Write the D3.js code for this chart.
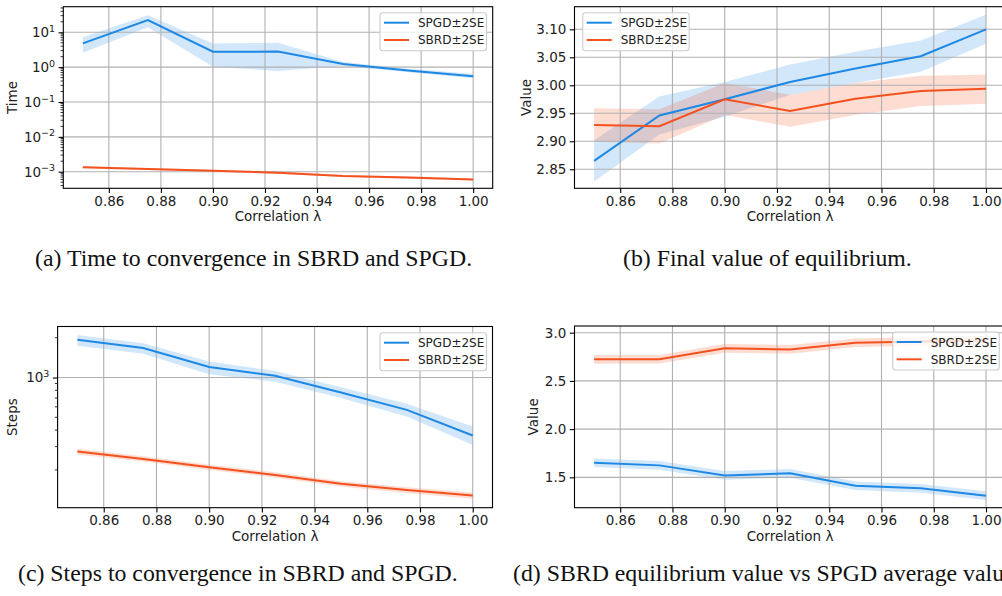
<!DOCTYPE html>
<html>
<head>
<meta charset="utf-8">
<script src="https://cdn.jsdelivr.net/npm/d3@7"></script>
<style>
  body { margin: 0; background: #fff; }
  svg { display: block; }
  .tick text { font-family: "DejaVu Sans", sans-serif; font-size: 13.5px; fill: #222; }
  .lbl { font-family: "DejaVu Sans", sans-serif; font-size: 13.5px; fill: #222; }
  .leg { font-family: "DejaVu Sans", sans-serif; font-size: 12px; fill: #222; }
  .cap { font-family: "Liberation Serif", "Times New Roman", serif; font-size: 23.8px; fill: #111; }
</style>
</head>
<body>
<script>
// correlation values (x)
var lambdas = [0.85, 0.875, 0.90, 0.925, 0.95, 0.975, 1.00];
var xTicks = [0.86, 0.88, 0.90, 0.92, 0.94, 0.96, 0.98, 1.00];

// (a) time to convergence
var timeSpgd   = [4.8, 22.5, 2.77, 2.8, 1.23, 0.8, 0.55];
var timeSpgdLo = [2.6, 14, 1.02, 0.78, 1.08, 0.72, 0.48];
var timeSpgdHi = [7.2, 31, 4.8, 5.0, 1.4, 0.9, 0.65];
var timeSbrd   = [1.34e-3, 1.2e-3, 1.07e-3, 0.94e-3, 0.75e-3, 0.68e-3, 0.6e-3];
var timeSbrdLo = [1.25e-3, 1.12e-3, 1.0e-3, 0.88e-3, 0.70e-3, 0.63e-3, 0.56e-3];
var timeSbrdHi = [1.43e-3, 1.28e-3, 1.14e-3, 1.0e-3, 0.80e-3, 0.73e-3, 0.64e-3];

// (b) final value of equilibrium
var valSpgd   = [2.865, 2.946, 2.975, 3.006, 3.03, 3.052, 3.10];
var valSpgdLo = [2.828, 2.912, 2.944, 2.983, 3.004, 3.024, 3.074];
var valSpgdHi = [2.902, 2.980, 3.006, 3.037, 3.06, 3.08, 3.126];
var valSbrd   = [2.929, 2.927, 2.975, 2.954, 2.976, 2.99, 2.994];
var valSbrdLo = [2.899, 2.896, 2.947, 2.926, 2.947, 2.963, 2.967];
var valSbrdHi = [2.959, 2.957, 3.004, 2.983, 3.004, 3.017, 3.019];

// (c) steps to convergence
var stepsSpgd   = [1930, 1670, 1200, 1030, 770, 569, 364];
var stepsSpgdLo = [1740, 1510, 1060, 930, 700, 506, 309];
var stepsSpgdHi = [2100, 1820, 1320, 1120, 845, 632, 425];
var stepsSbrd   = [275, 242, 209, 183, 157, 141, 128];
var stepsSbrdLo = [262, 231, 200, 175, 150, 134, 121];
var stepsSbrdHi = [289, 254, 219, 192, 164, 148, 135];

// (d) SBRD equilibrium vs SPGD average value
var eqSpgd   = [1.651, 1.624, 1.52, 1.541, 1.413, 1.386, 1.31];
var eqSpgdLo = [1.606, 1.579, 1.475, 1.496, 1.368, 1.341, 1.265];
var eqSpgdHi = [1.696, 1.669, 1.565, 1.586, 1.458, 1.431, 1.355];
var eqSbrd   = [2.724, 2.725, 2.838, 2.827, 2.896, 2.91, 2.92];
var eqSbrdLo = [2.679, 2.680, 2.793, 2.782, 2.851, 2.865, 2.875];
var eqSbrdHi = [2.769, 2.770, 2.883, 2.872, 2.941, 2.955, 2.965];

var seriesNames = ["SPGD\u00b12SE", "SBRD\u00b12SE"];
var captions = [
  "(a) Time to convergence in SBRD and SPGD.",
  "(b) Final value of equilibrium.",
  "(c) Steps to convergence in SBRD and SPGD.",
  "(d) SBRD equilibrium value vs SPGD average value."
];

var blue = "#1e88e5", orange = "#f4511e";

var svg = d3.select("body").append("svg")
    .attr("width", 1002).attr("height", 596);

function panel(opt) {
    var x = d3.scaleLinear().domain([0.8425, 1.0075]).range([opt.left, opt.right]);
    var y = (opt.log ? d3.scaleLog() : d3.scaleLinear())
        .domain(opt.ydom).range([opt.bottom, opt.top]);
    var id = "clip" + opt.key;
    svg.append("clipPath").attr("id", id).append("rect")
        .attr("x", opt.left).attr("y", opt.top)
        .attr("width", opt.right - opt.left).attr("height", opt.bottom - opt.top);

    var g = svg.append("g");
    var plot = g.append("g").attr("clip-path", "url(#" + id + ")");

    var area = d3.area().x(function (d) { return x(d[0]); })
        .y0(function (d) { return y(d[1]); }).y1(function (d) { return y(d[2]); });
    var line = d3.line().x(function (d) { return x(d[0]); }).y(function (d) { return y(d[1]); });

    // bands
    opt.series.forEach(function (s) {
        var pts = lambdas.map(function (l, i) { return [l, s.lo[i], s.hi[i]]; });
        plot.append("path").attr("d", area(pts)).attr("fill", s.color).attr("fill-opacity", 0.2);
    });

    // grid
    plot.selectAll(".vg").data(xTicks).enter().append("line")
        .attr("x1", function (d) { return x(d); }).attr("x2", function (d) { return x(d); })
        .attr("y1", opt.top).attr("y2", opt.bottom)
        .attr("stroke", "#b0b0b0").attr("stroke-width", 1.1);
    plot.selectAll(".hg").data(opt.yTicks).enter().append("line")
        .attr("y1", function (d) { return y(d); }).attr("y2", function (d) { return y(d); })
        .attr("x1", opt.left).attr("x2", opt.right)
        .attr("stroke", "#b0b0b0").attr("stroke-width", 1.1);

    // lines
    opt.series.forEach(function (s) {
        var pts = lambdas.map(function (l, i) { return [l, s.v[i]]; });
        plot.append("path").attr("d", line(pts)).attr("fill", "none")
            .attr("stroke", s.color).attr("stroke-width", 2);
    });

    // axes
    var xa = g.append("g").attr("transform", "translate(0," + opt.bottom + ")")
        .call(d3.axisBottom(x).tickValues(xTicks).tickFormat(d3.format(".2f"))
            .tickSize(4.7).tickPadding(3.5));
    var ya = g.append("g").attr("transform", "translate(" + opt.left + ",0)")
        .call(d3.axisLeft(y).tickValues(opt.yTicks).tickSize(4.7).tickPadding(3.5)
            .tickFormat(opt.log ? function () { return ""; } : d3.format(opt.yfmt)));
    if (opt.log) {
        ya.selectAll(".tick text").each(function (d) {
            var e = Math.round(Math.log10(d)).toString();
            var t = d3.select(this);
            t.append("tspan").text("10");
            t.append("tspan").attr("font-size", "9.5px").attr("dy", "-0.55em")
                .text(e.split("").map(function (c) { return c === "-" ? "\u2212" : c; }).join(""));
        });
        ya.selectAll(".minor").data(opt.minor).enter().append("line")
            .attr("x1", 0).attr("x2", -2.7)
            .attr("y1", function (d) { return y(d); }).attr("y2", function (d) { return y(d); })
            .attr("stroke", "#000").attr("stroke-width", 0.8);
    }
    [xa, ya].forEach(function (a) {
        a.select(".domain").remove();
        a.selectAll(".tick line").attr("stroke", "#000").attr("stroke-width", 1.1);
    });

    g.append("rect").attr("x", opt.left).attr("y", opt.top)
        .attr("width", opt.right - opt.left).attr("height", opt.bottom - opt.top)
        .attr("fill", "none").attr("stroke", "#000").attr("stroke-width", 1.1);

    g.append("text").attr("class", "lbl").attr("text-anchor", "middle")
        .attr("x", (opt.left + opt.right) / 2)
        .attr("y", opt.bottom + 33).text("Correlation \u03bb");
    g.append("text").attr("class", "lbl").attr("text-anchor", "middle")
        .attr("transform", "translate(" + opt.ylx + "," + (opt.top + opt.bottom) / 2 + ") rotate(-90)")
        .text(opt.ylabel);

    // legend
    var lg = g.append("g").attr("transform", "translate(" + opt.leg[0] + "," + opt.leg[1] + ")");
    lg.append("rect").attr("x", 0).attr("y", 0).attr("width", 106.5).attr("height", 38)
        .attr("rx", 3).attr("fill", "#fff").attr("fill-opacity", 0.8)
        .attr("stroke", "#cccccc").attr("stroke-width", 1.1);
    opt.series.forEach(function (s, i) {
        var yy = 10 + i * 17.3;
        lg.append("line").attr("x1", 4).attr("x2", 29).attr("y1", yy).attr("y2", yy)
            .attr("stroke", s.color).attr("stroke-width", 2);
        lg.append("text").attr("class", "leg").attr("x", 38).attr("y", yy + 4.5).text(seriesNames[i]);
    });
}

panel({
    key: "a", left: 63.3, right: 492.7, top: 6.7, bottom: 188.3,
    log: true, ydom: [Math.pow(10, -3.476), Math.pow(10, 1.735)],
    yTicks: [1e-3, 1e-2, 1e-1, 1, 10],
    minor: d3.range(-4, 2).flatMap(function (e) {
        return [2, 3, 4, 5, 6, 7, 8, 9].map(function (m) { return m * Math.pow(10, e); });
    }).filter(function (v) { return v > Math.pow(10, -3.476) && v < Math.pow(10, 1.735); }),
    ylabel: "Time", ylx: 17, leg: [380, 12.7],
    series: [
        { v: timeSpgd, lo: timeSpgdLo, hi: timeSpgdHi, color: blue },
        { v: timeSbrd, lo: timeSbrdLo, hi: timeSbrdHi, color: orange }
    ]
});

panel({
    key: "b", left: 574.5, right: 1005.6, top: 6.7, bottom: 188.3,
    ydom: [2.816, 3.1404], yTicks: [2.85, 2.90, 2.95, 3.00, 3.05, 3.10], yfmt: ".2f",
    ylabel: "Value", ylx: 531, leg: [582.7, 12.7],
    series: [
        { v: valSpgd, lo: valSpgdLo, hi: valSpgdHi, color: blue },
        { v: valSbrd, lo: valSbrdLo, hi: valSbrdHi, color: orange }
    ]
});

panel({
    key: "c", left: 57.6, right: 492.5, top: 326.5, bottom: 507.7,
    log: true, ydom: [103.5, 2432], yTicks: [1000],
    minor: [200, 300, 400, 500, 600, 700, 800, 900, 2000],
    ylabel: "Steps", ylx: 17.3, leg: [380, 332.7],
    series: [
        { v: stepsSpgd, lo: stepsSpgdLo, hi: stepsSpgdHi, color: blue },
        { v: stepsSbrd, lo: stepsSbrdLo, hi: stepsSbrdHi, color: orange }
    ]
});

panel({
    key: "d", left: 574.5, right: 1005.6, top: 326, bottom: 507.7,
    ydom: [1.185, 3.0695], yTicks: [1.5, 2.0, 2.5, 3.0], yfmt: ".1f",
    ylabel: "Value", ylx: 538, leg: [892.7, 332],
    series: [
        { v: eqSpgd, lo: eqSpgdLo, hi: eqSpgdHi, color: blue },
        { v: eqSbrd, lo: eqSbrdLo, hi: eqSbrdHi, color: orange }
    ]
});

// subfigure captions
var capPos = [[35, 266], [623, 266], [18, 581], [513, 581]];
svg.selectAll(".cap").data(captions).enter().append("text")
    .attr("class", "cap")
    .attr("x", function (d, i) { return capPos[i][0]; })
    .attr("y", function (d, i) { return capPos[i][1]; })
    .text(function (d) { return d; });
</script>
</body>
</html>
